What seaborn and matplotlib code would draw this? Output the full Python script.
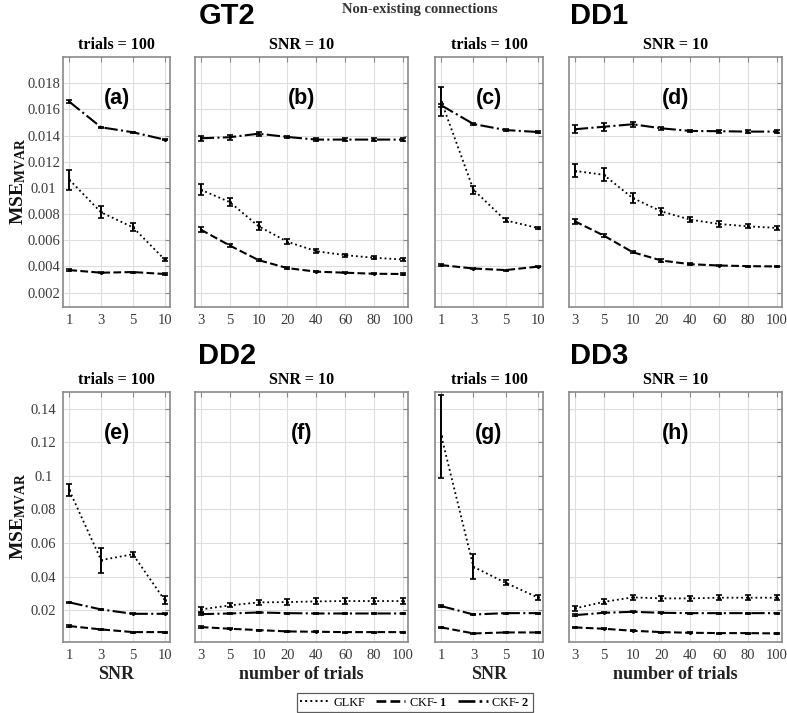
import numpy as np
import pandas as pd
import matplotlib
matplotlib.use("Agg")
import matplotlib.pyplot as plt
from matplotlib.lines import Line2D
import seaborn as sns

# ---------------- data ----------------
snr_labels = ["1", "3", "5", "10"]
trial_labels = ["3", "5", "10", "20", "40", "60", "80", "100"]
series_names = ["GLKF", "CKF-1", "CKF-2"]

# GT2
a_glkf = [0.01062, 0.00813, 0.00699, 0.00453]
a_glkf_err = [0.00076, 0.00045, 0.0003, 0.0001]
a_ckf1 = [0.00372, 0.00352, 0.00357, 0.00342]
a_ckf1_err = [0.00005, 0.00004, 0.00004, 0.00004]
a_ckf2 = [0.01658, 0.01463, 0.01425, 0.01369]
a_ckf2_err = [0.0001, 0.00005, 0.00005, 0.00005]

b_glkf = [0.00986, 0.00892, 0.00707, 0.00588, 0.00516, 0.00486, 0.00466, 0.00453]
b_glkf_err = [0.0004, 0.0003, 0.0003, 0.0002, 0.00015, 0.00012, 0.0001, 0.0001]
b_ckf1 = [0.00681, 0.0056, 0.00448, 0.00387, 0.0036, 0.00352, 0.00344, 0.00342]
b_ckf1_err = [0.0002, 0.00015, 0.0001, 0.00008, 0.00006, 0.00005, 0.00005, 0.00005]
b_ckf2 = [0.01379, 0.01387, 0.01414, 0.01389, 0.01369, 0.01369, 0.01369, 0.01369]
b_ckf2_err = [0.0002, 0.0002, 0.00015, 0.0001, 0.0001, 0.0001, 0.0001, 0.0001]

# DD1
c_glkf = [0.0166, 0.00986, 0.00752, 0.00694]
c_glkf_err = [0.0011, 0.0003, 0.00015, 0.0001]
c_ckf1 = [0.0041, 0.00384, 0.00372, 0.00398]
c_ckf1_err = [0.00005, 0.00004, 0.00004, 0.00004]
c_ckf2 = [0.0163, 0.01488, 0.01442, 0.01427]
c_ckf2_err = [0.0001, 0.00005, 0.00005, 0.00005]

d_glkf = [0.0113, 0.0110, 0.00923, 0.0082, 0.00757, 0.00724, 0.00706, 0.00694]
d_glkf_err = [0.0005, 0.0005, 0.0004, 0.0003, 0.0002, 0.0002, 0.00015, 0.00012]
d_ckf1 = [0.00745, 0.00636, 0.00509, 0.00445, 0.00417, 0.00407, 0.00402, 0.0040]
d_ckf1_err = [0.0002, 0.00015, 0.0001, 0.00008, 0.00006, 0.00005, 0.00005, 0.00005]
d_ckf2 = [0.01448, 0.01467, 0.01486, 0.01455, 0.01435, 0.01433, 0.0143, 0.0143]
d_ckf2_err = [0.0003, 0.0003, 0.0002, 0.00012, 0.0001, 0.0001, 0.0001, 0.0001]

# DD2
e_glkf = [0.0914, 0.0498, 0.0533, 0.0260]
e_glkf_err = [0.0035, 0.0075, 0.0015, 0.0025]
e_ckf1 = [0.0105, 0.0085, 0.0069, 0.0069]
e_ckf1_err = [0.0004, 0.0003, 0.0003, 0.0003]
e_ckf2 = [0.0246, 0.0204, 0.0178, 0.0178]
e_ckf2_err = [0.0004, 0.0003, 0.0003, 0.0003]

f_glkf = [0.0204, 0.0228, 0.0246, 0.0248, 0.0252, 0.0254, 0.0254, 0.0254]
f_glkf_err = [0.0015, 0.0012, 0.0015, 0.0017, 0.0018, 0.0018, 0.0018, 0.0020]
f_ckf1 = [0.0099, 0.0089, 0.0081, 0.0073, 0.0071, 0.0069, 0.0069, 0.0069]
f_ckf1_err = [0.0004, 0.0003, 0.0003, 0.0003, 0.0003, 0.0003, 0.0003, 0.0003]
f_ckf2 = [0.0176, 0.0180, 0.0186, 0.0182, 0.0180, 0.0180, 0.0180, 0.0180]
f_ckf2_err = [0.0006, 0.0004, 0.0004, 0.0003, 0.0003, 0.0003, 0.0003, 0.0003]

# DD3
g_glkf = [0.1235, 0.0458, 0.0363, 0.0276]
g_glkf_err = [0.0245, 0.0075, 0.0015, 0.0015]
g_ckf1 = [0.0097, 0.0061, 0.0067, 0.0067]
g_ckf1_err = [0.0004, 0.0003, 0.0003, 0.0003]
g_ckf2 = [0.0224, 0.0174, 0.0182, 0.0182]
g_ckf2_err = [0.0004, 0.0003, 0.0003, 0.0003]

h_glkf = [0.0210, 0.0249, 0.0276, 0.0270, 0.0270, 0.0274, 0.0274, 0.0274]
h_glkf_err = [0.0015, 0.0015, 0.0015, 0.0015, 0.0015, 0.0015, 0.0015, 0.0015]
h_ckf1 = [0.0097, 0.0089, 0.0077, 0.0069, 0.0065, 0.0063, 0.0063, 0.0061]
h_ckf1_err = [0.0004, 0.0003, 0.0003, 0.0003, 0.0003, 0.0003, 0.0003, 0.0003]
h_ckf2 = [0.0170, 0.0184, 0.0190, 0.0184, 0.0182, 0.0182, 0.0182, 0.0182]
h_ckf2_err = [0.0005, 0.0004, 0.0003, 0.0003, 0.0003, 0.0003, 0.0003, 0.0003]

panel_letters = ["(a)", "(b)", "(c)", "(d)", "(e)", "(f)", "(g)", "(h)"]
group_titles = ["GT2", "DD1", "DD2", "DD3"]
col_titles = ["trials = 100", "SNR = 10", "trials = 100", "SNR = 10"]

# ---------------- style ----------------
sns.set_theme(style="white")
plt.rcParams["font.family"] = ["Liberation Serif", "DejaVu Serif"]
plt.rcParams["mathtext.fontset"] = "custom"
plt.rcParams["mathtext.rm"] = "Liberation Serif"
plt.rcParams["mathtext.bf"] = "Liberation Serif:bold"
plt.rcParams["mathtext.it"] = "Liberation Serif:italic"
plt.rcParams["text.color"] = "black"
plt.rcParams["axes.labelcolor"] = "#111111"

W, H = 787, 713
fig = plt.figure(figsize=(W / 100, H / 100), dpi=100)

cols_px = [(63, 170), (195, 408), (435, 543), (569, 782)]
rows_px = [(57, 307), (392, 642)]

panels = [
    (snr_labels, [a_glkf, a_ckf1, a_ckf2], [a_glkf_err, a_ckf1_err, a_ckf2_err]),
    (trial_labels, [b_glkf, b_ckf1, b_ckf2], [b_glkf_err, b_ckf1_err, b_ckf2_err]),
    (snr_labels, [c_glkf, c_ckf1, c_ckf2], [c_glkf_err, c_ckf1_err, c_ckf2_err]),
    (trial_labels, [d_glkf, d_ckf1, d_ckf2], [d_glkf_err, d_ckf1_err, d_ckf2_err]),
    (snr_labels, [e_glkf, e_ckf1, e_ckf2], [e_glkf_err, e_ckf1_err, e_ckf2_err]),
    (trial_labels, [f_glkf, f_ckf1, f_ckf2], [f_glkf_err, f_ckf1_err, f_ckf2_err]),
    (snr_labels, [g_glkf, g_ckf1, g_ckf2], [g_glkf_err, g_ckf1_err, g_ckf2_err]),
    (trial_labels, [h_glkf, h_ckf1, h_ckf2], [h_glkf_err, h_ckf1_err, h_ckf2_err]),
]

styles = {"GLKF": ":", "CKF-1": "--", "CKF-2": "-."}
lws = {"GLKF": 1.3, "CKF-1": 1.5, "CKF-2": 1.5}
frame_col = "#8a8a8a"
tick_col = "#3a3a3a"

for i, (xlabels, vals, errs) in enumerate(panels):
    r, c = divmod(i, 4)
    x0, x1 = cols_px[c]
    y0, y1 = rows_px[r]
    ax = fig.add_axes([x0 / W, 1 - y1 / H, (x1 - x0) / W, (y1 - y0) / H])
    n = len(xlabels)
    pos = np.arange(n)
    for name, v, e in zip(series_names, vals, errs):
        df = pd.DataFrame({"x": pos, "y": v})
        sns.lineplot(data=df, x="x", y="y", ax=ax, color="black",
                     linestyle=styles[name], lw=lws[name], legend=False,
                     marker="o", markersize=2.2, markeredgewidth=0)
        ax.errorbar(pos, v, yerr=e, fmt="none", ecolor="black",
                    elinewidth=1.4, capsize=2, capthick=1.2, zorder=3)
    ax.set_xlim(-0.2, n - 1 + 0.17)
    ax.set_xticks(pos)
    ax.set_xticklabels(xlabels)
    if r == 0:
        ax.set_ylim(0.0009, 0.02)
        ax.set_yticks(np.arange(0.002, 0.0181, 0.002))
        ylabs = ["0.002", "0.004", "0.006", "0.008", "0.01", "0.012", "0.014", "0.016", "0.018"]
    else:
        ax.set_ylim(0.001, 0.15)
        ax.set_yticks(np.arange(0.02, 0.141, 0.02))
        ylabs = ["0.02", "0.04", "0.06", "0.08", "0.1", "0.12", "0.14"]
    if c == 0:
        ax.set_yticklabels(ylabs)
        ax.set_ylabel(r"$\mathbf{MSE}_{\mathbf{MVAR}}$", fontsize=14, va="center")
        ax.yaxis.set_label_coords((18 - 63) / 107, 0.5)
    else:
        ax.set_yticklabels([])
        ax.set_ylabel("")
    if r == 1:
        ax.set_xlabel("SNR" if c % 2 == 0 else "number of trials",
                      fontsize=13, fontweight="bold", color="#222222", labelpad=3)
    else:
        ax.set_xlabel("")
    ax.grid(True, color="#dedede", lw=0.8)
    ax.set_axisbelow(True)
    ax.tick_params(direction="in", length=3.5, width=0.8, color=frame_col,
                   top=True, right=True, labelsize=10.5, labelcolor=tick_col)
    ax.tick_params(axis="x", pad=5)
    ax.tick_params(axis="y", pad=14)
    for t in ax.get_yticklabels():
        t.set_horizontalalignment("center")
    for s in ax.spines.values():
        s.set_visible(True)
        s.set_color(frame_col)
        s.set_linewidth(1.2)
    ax.set_title(col_titles[c], fontsize=11.5, fontweight="bold", pad=6, color="black")
    ax.text(0.5, 0.835, panel_letters[i], transform=ax.transAxes, ha="center",
            va="center", fontsize=15.5, fontweight="bold", color="black",
            family=["Liberation Sans", "DejaVu Sans"])

# group titles
for (gx, gy), t in zip([(227, 16), (599, 16), (227, 356), (599, 356)], group_titles):
    fig.text(gx / W, 1 - gy / H, t, ha="center", va="center", fontsize=21,
             fontweight="bold", color="black", family=["Liberation Sans", "DejaVu Sans"])

fig.text(420 / W, 1 - 9 / H, "Non-existing connections", ha="center", va="center",
         fontsize=10.5, fontweight="bold", color="#333333")

handles = [Line2D([], [], color="black", linestyle=styles[n], lw=1.9 if n != "GLKF" else 1.4)
           for n in series_names]
labels = ["GLKF", r"CKF- $\mathbf{1}$", r"CKF- $\mathbf{2}$"]
leg = fig.legend(handles, labels, loc="center", bbox_to_anchor=(415 / W, 1 - 702.5 / H),
                 ncol=3, fontsize=8.8, frameon=True, fancybox=False, handlelength=2.4,
                 handletextpad=0.3, columnspacing=0.9, borderpad=0.25, borderaxespad=0)
leg.get_frame().set_edgecolor("#333333")
leg.get_frame().set_linewidth(0.9)

fig.savefig("out.png", dpi=100)
